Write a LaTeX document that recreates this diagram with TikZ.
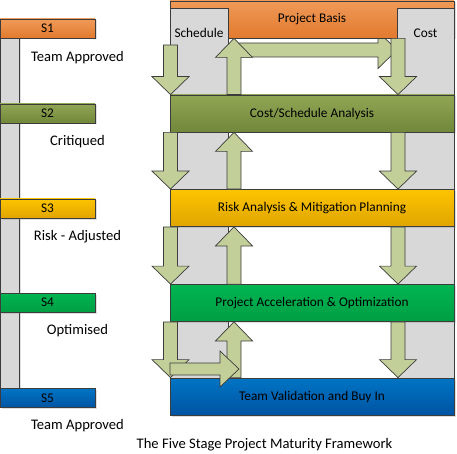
\documentclass[tikz,border=0pt]{standalone}
\usepackage{fontspec}
\setmainfont{Carlito}
\usetikzlibrary{calc,shadows}
\definecolor{basisA}{HTML}{EF9A58}
\definecolor{basisB}{HTML}{E27A2E}
\definecolor{oliveA}{HTML}{91A654}
\definecolor{oliveB}{HTML}{71873A}
\definecolor{goldA}{HTML}{FCC400}
\definecolor{goldB}{HTML}{E0A500}
\definecolor{greenA}{HTML}{00B552}
\definecolor{greenB}{HTML}{009E44}
\definecolor{blueA}{HTML}{0074C4}
\definecolor{blueB}{HTML}{0054A2}
\definecolor{colgrey}{HTML}{D8D8D8}
\definecolor{arrfill}{HTML}{C2CF98}
\definecolor{edge}{HTML}{3C3C3C}

\tikzset{
  shadowed/.style={drop shadow={shadow xshift=1.5pt,shadow yshift=-1.5pt,opacity=.25}},
  stagebox/.style={draw=edge,line width=0.8pt,minimum width=284pt,minimum height=37pt,
    inner sep=0pt,font=\fontsize{13.3}{16}\selectfont,shadowed},
  sbox/.style={draw=edge,line width=0.8pt,minimum width=95pt,minimum height=19pt,
    inner sep=0pt,font=\fontsize{13.3}{16}\selectfont,shadowed},
  colbox/.style={draw=edge,line width=0.8pt,fill=colgrey},
  blk/.style={draw=edge,line width=0.7pt,fill=arrfill},
  lbl/.style={font=\fontsize{14.6}{17}\selectfont,anchor=base},
}

% block arrows: column, start, tip
\newcommand\arrdn[3]{%
  \draw[blk] ($(#1|-#2)+(-7,0)$) -- ($(#1|-#2)+(7,0)$) -- ($(#1|-#3)+(7,-18)$)
    -- ($(#1|-#3)+(18.5,-18)$) -- (#1|-#3) -- ($(#1|-#3)+(-18.5,-18)$)
    -- ($(#1|-#3)+(-7,-18)$) -- cycle;}
\newcommand\arrup[3]{%
  \draw[blk] ($(#1|-#2)+(-7,0)$) -- ($(#1|-#3)+(-7,19)$) -- ($(#1|-#3)+(-18.5,19)$)
    -- (#1|-#3) -- ($(#1|-#3)+(18.5,19)$) -- ($(#1|-#3)+(7,19)$)
    -- ($(#1|-#2)+(7,0)$) -- cycle;}
% start, tip, shaft half width, head half width
\newcommand\arrrt[4]{%
  \draw[blk] ($(#1)+(0,-#3)$) -- ($(#2)+(-19,-#3)$) -- ($(#2)+(-19,-#4)$) -- (#2)
    -- ($(#2)+(-19,#4)$) -- ($(#2)+(-19,#3)$) -- ($(#1)+(0,#3)$) -- cycle;}

\begin{document}
\begin{tikzpicture}[x=1pt,y=-1pt]
  \useasboundingbox (0,0) rectangle (457,454);
  \coordinate (lx) at (170.5,0);
  \coordinate (rx) at (398,0);
  \coordinate (ux) at (234,0);
  \coordinate (schtop) at (170.5,45);
  \coordinate (ptop) at (233,50);
  \coordinate (ptip) at (397,50);
  \coordinate (vbeg) at (170,369);
  \coordinate (vtip) at (239,369);

  % link under the basis box
  \arrrt{ptop}{ptip}{7}{18.5}
  \node[stagebox,top color=basisA,bottom color=basisB] (basis) at (312,19.5) {Project Basis};

  % schedule and cost columns
  \draw[colbox] (170,8) rectangle (228,390);
  \draw[colbox] (397,8) rectangle (454,390);
  \node[font=\fontsize{13.3}{16}\selectfont] (sched) at (199,33) {Schedule};
  \node[font=\fontsize{13.3}{16}\selectfont] (cost) at (425.5,33) {Cost};

  % stage ladder
  \draw[colbox,shadowed] (0,28) rectangle (19,398);
  \foreach \i/\yy/\cA/\cB in {1/28.5/basisA/basisB,2/113.5/oliveA/oliveB,
      3/208.5/goldA/goldB,4/302.5/greenA/greenB,5/398/blueA/blueB}
    \node[sbox,top color=\cA,bottom color=\cB] (s\i) at (47.5,\yy) {S\i};
  \node[lbl] (lab1) at (77.5,62) {Team Approved};
  \node[lbl] (lab2) at (77.5,145.7) {Critiqued};
  \node[lbl] (lab3) at (77.5,240.3) {Risk - Adjusted};
  \node[lbl] (lab4) at (77.5,334) {Optimised};
  \node[lbl] (lab5) at (77.5,429.7) {Team Approved};

  % stages
  \node[stagebox,top color=oliveA,bottom color=oliveB] (cs) at (312,113.5) {Cost/Schedule Analysis};
  \node[stagebox,top color=goldA,bottom color=goldB] (risk) at (312,208) {Risk Analysis \& Mitigation Planning};
  \node[stagebox,top color=greenA,bottom color=greenB] (accel) at (312,303) {Project Acceleration \& Optimization};
  \node[stagebox,top color=blueA,bottom color=blueB] (valid) at (312,396.5) {Team Validation and Buy In};

  % flow arrows
  \arrdn{lx}{schtop}{cs.north}
  \arrdn{lx}{cs.south}{risk.north}
  \arrdn{lx}{risk.south}{accel.north}
  \arrdn{lx}{accel.south}{valid.north}
  \arrdn{rx}{basis.south}{cs.north}
  \arrdn{rx}{cs.south}{risk.north}
  \arrdn{rx}{risk.south}{accel.north}
  \arrdn{rx}{accel.south}{valid.north}
  \arrup{ux}{cs.north}{basis.south}
  \arrup{ux}{risk.north}{cs.south}
  \arrup{ux}{accel.north}{risk.south}
  \arrup{ux}{valid.north}{accel.south}
  \arrrt{vbeg}{vtip}{6}{18}

  \node[lbl] (title) at (264.5,448.7) {The Five Stage Project Maturity Framework};
\end{tikzpicture}
\end{document}
